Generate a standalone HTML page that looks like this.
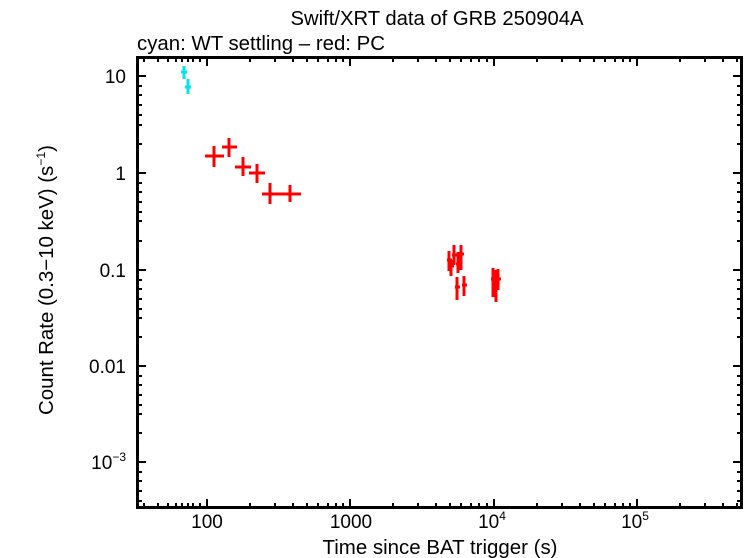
<!DOCTYPE html>
<html><head><style>body{margin:0;background:#fff}svg{display:block}text{font-family:"Liberation Sans",sans-serif;fill:#000}</style></head>
<body>
<svg width="746" height="558" viewBox="0 0 746 558" xmlns="http://www.w3.org/2000/svg">
<text x="437" y="25" font-size="20" text-anchor="middle" textLength="293" lengthAdjust="spacingAndGlyphs">Swift/XRT data of GRB 250904A</text>
<text x="137" y="50" font-size="20" textLength="248" lengthAdjust="spacingAndGlyphs">cyan: WT settling – red: PC</text>
<g stroke="#000" stroke-width="3" fill="none">
<rect x="137.5" y="57.5" width="604" height="450"/>
</g>
<g stroke="#000" stroke-width="2">
<path d="M207 508v-9M350 508v-9M494 508v-9M637 508v-9M207 57v9M350 57v9M494 57v9M637 57v9"/>
<path d="M144 508v-5M158 508v-5M168 508v-5M176 508v-5M182 508v-5M188 508v-5M193 508v-5M200 508v-5M250 508v-5M275 508v-5M293 508v-5M307 508v-5M318 508v-5M328 508v-5M336 508v-5M343 508v-5M393 508v-5M418 508v-5M436 508v-5M450 508v-5M461 508v-5M471 508v-5M479 508v-5M487 508v-5M537 508v-5M562 508v-5M580 508v-5M594 508v-5M605 508v-5M615 508v-5M623 508v-5M630 508v-5M680 508v-5M705 508v-5M723 508v-5M737 508v-5"/>
<path d="M144 57v5M158 57v5M168 57v5M176 57v5M182 57v5M188 57v5M193 57v5M200 57v5M250 57v5M275 57v5M293 57v5M307 57v5M318 57v5M328 57v5M336 57v5M343 57v5M393 57v5M418 57v5M436 57v5M450 57v5M461 57v5M471 57v5M479 57v5M487 57v5M537 57v5M562 57v5M580 57v5M594 57v5M605 57v5M615 57v5M623 57v5M630 57v5M680 57v5M705 57v5M723 57v5M737 57v5"/>
<path d="M137 76h9M137 173h9M137 270h9M137 366h9M137 462h9M742 76h-9M742 173h-9M742 270h-9M742 366h-9M742 462h-9"/>
<path d="M137 86h5M137 95h5M137 105h5M137 115h5M137 125h5M137 144h5M137 183h5M137 192h5M137 202h5M137 212h5M137 221h5M137 241h5M137 280h5M137 289h5M137 299h5M137 309h5M137 318h5M137 337h5M137 376h5M137 385h5M137 395h5M137 405h5M137 414h5M137 433h5M137 472h5M137 481h5M137 491h5M137 501h5
M742 86h-5M742 95h-5M742 105h-5M742 115h-5M742 125h-5M742 144h-5M742 183h-5M742 192h-5M742 202h-5M742 212h-5M742 221h-5M742 241h-5M742 280h-5M742 289h-5M742 299h-5M742 309h-5M742 318h-5M742 337h-5M742 376h-5M742 385h-5M742 395h-5M742 405h-5M742 414h-5M742 433h-5M742 472h-5M742 481h-5M742 491h-5M742 501h-5"/>
</g>
<g font-size="19" text-anchor="middle">
<text x="207" y="528">100</text><text x="351" y="528">1000</text>
<text x="492" y="528">10<tspan font-size="12" dy="-8">4</tspan></text>
<text x="635" y="528">10<tspan font-size="12" dy="-8">5</tspan></text>
<text x="440" y="554" font-size="20" textLength="235" lengthAdjust="spacingAndGlyphs">Time since BAT trigger (s)</text>
</g>
<g font-size="19" text-anchor="end">
<text x="126" y="83">10</text><text x="126" y="180">1</text><text x="126" y="277">0.1</text><text x="126" y="373">0.01</text>
<text x="126" y="469">10<tspan font-size="12" dy="-8">−3</tspan></text>
</g>
<text transform="translate(53 280) rotate(-90)" font-size="20" text-anchor="middle" textLength="270" lengthAdjust="spacingAndGlyphs">Count Rate (0.3−10 keV) (s<tspan font-size="12" dy="-8">−1</tspan><tspan dy="8">)</tspan></text>
<g stroke="#00e5ee" stroke-width="3">
<path d="M184 66v13M181 72h6M188 79v15M185 87h6"/>
</g>
<g stroke="#f00" stroke-width="3">
<path d="M205 156h19M214 146v21M222 147h15M229 138v19M235 167h16M243 157v19M249 173h16M257 164v19M262 194h20M270 183v21M282 194h19M290 185v17"/>
<path d="M447 260h5M449 251v20M449 266h5M451 260v16M452 255h5M454 245v20M456 264h5M458 252v21M459 254h5M461 245v25M455 287h5M457 277v23M462 285h5M464 276v20M491 279h5M493 268v29M494 285h5M496 270v32M496 279h5M498 269v21"/>
</g>
</svg>
</body></html>
